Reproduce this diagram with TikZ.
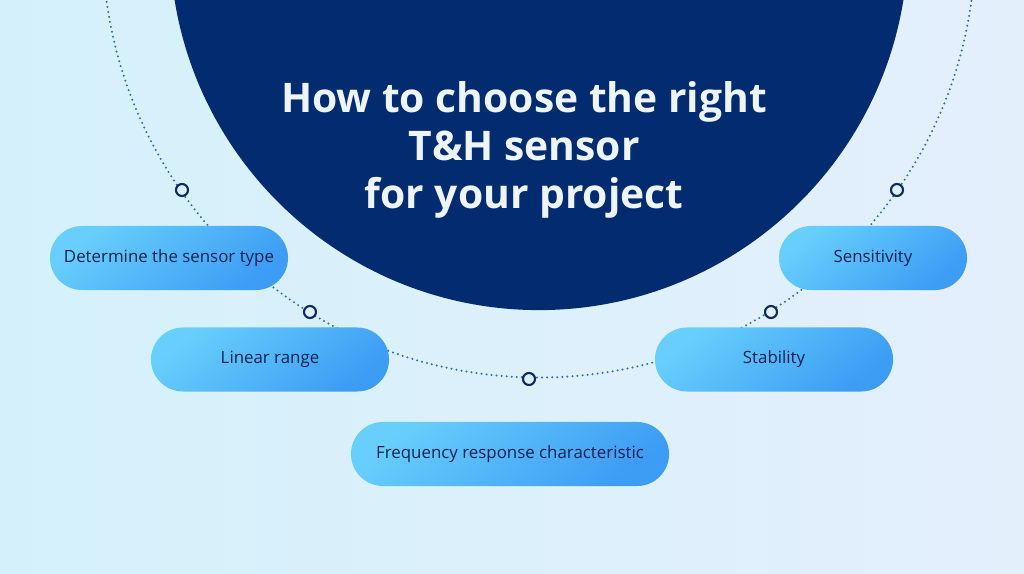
\documentclass[tikz,border=0pt]{standalone}
\usepackage{fontspec}
\setmainfont{Open Sans}
\definecolor{navy}{HTML}{032B6F}
\definecolor{dotcol}{HTML}{2E6DB8}
\definecolor{markc}{HTML}{0E2A5C}
\definecolor{pilltext}{HTML}{0A2250}
\definecolor{pillA}{HTML}{68CFFC}
\definecolor{pillB}{HTML}{3D9CF4}
\definecolor{bgL}{HTML}{D4F1FB}
\definecolor{bgR}{HTML}{E4EFFC}
\definecolor{bgM}{HTML}{DBF0FB}
\definecolor{titlec}{HTML}{EEF4FB}
\begin{document}
\begin{tikzpicture}[x=0.025cm,y=-0.025cm,
  pill/.style={rounded corners=0.8cm, minimum height=1.6cm, top color=pillA, bottom color=pillB, shading angle=40, text=pilltext, font=\fontsize{12}{14}\selectfont, inner sep=0pt},
  markbox/.style={circle, draw=markc, line width=1.5pt, fill=bgM, minimum size=0.3cm, inner sep=0pt},
  dotline/.style={draw=dotcol, line width=1.6pt, line cap=round, dash pattern=on 0pt off 3.6pt}]
\useasboundingbox (0,0) rectangle (1024,573);
\clip (0,0) rectangle (1024,573);
\shade[left color=bgL, right color=bgR] (0,0) rectangle (1024,573);
% big navy circle
\fill[navy] (539,-59) circle[radius=9.225cm];
% dotted arc
\draw[dotline] (539,-59) circle[radius=10.91cm];
% title
\node[text=titlec, align=center, font=\fontsize{29}{34}\selectfont\bfseries] (title) at (524,150) {How to choose the right\\T\&H sensor\\for your project};
% markers
\node[markbox] (m1) at (182,190) {};
\node[markbox] (m2) at (310,312) {};
\node[markbox] (m3) at (529,379) {};
\node[markbox] (m4) at (771,312) {};
\node[markbox] (m5) at (897,190) {};
% pills
\node[pill, minimum width=5.95cm] (p1) at (169,258) {Determine the sensor type};
\node[pill, minimum width=5.95cm] (p2) at (270,359.5) {Linear range};
\node[pill, minimum width=7.95cm] (p3) at (510,454) {Frequency response characteristic};
\node[pill, minimum width=4.7cm] (p4) at (873,258) {Sensitivity};
\node[pill, minimum width=5.95cm] (p5) at (774,359.5) {Stability};
\end{tikzpicture}
\end{document}
